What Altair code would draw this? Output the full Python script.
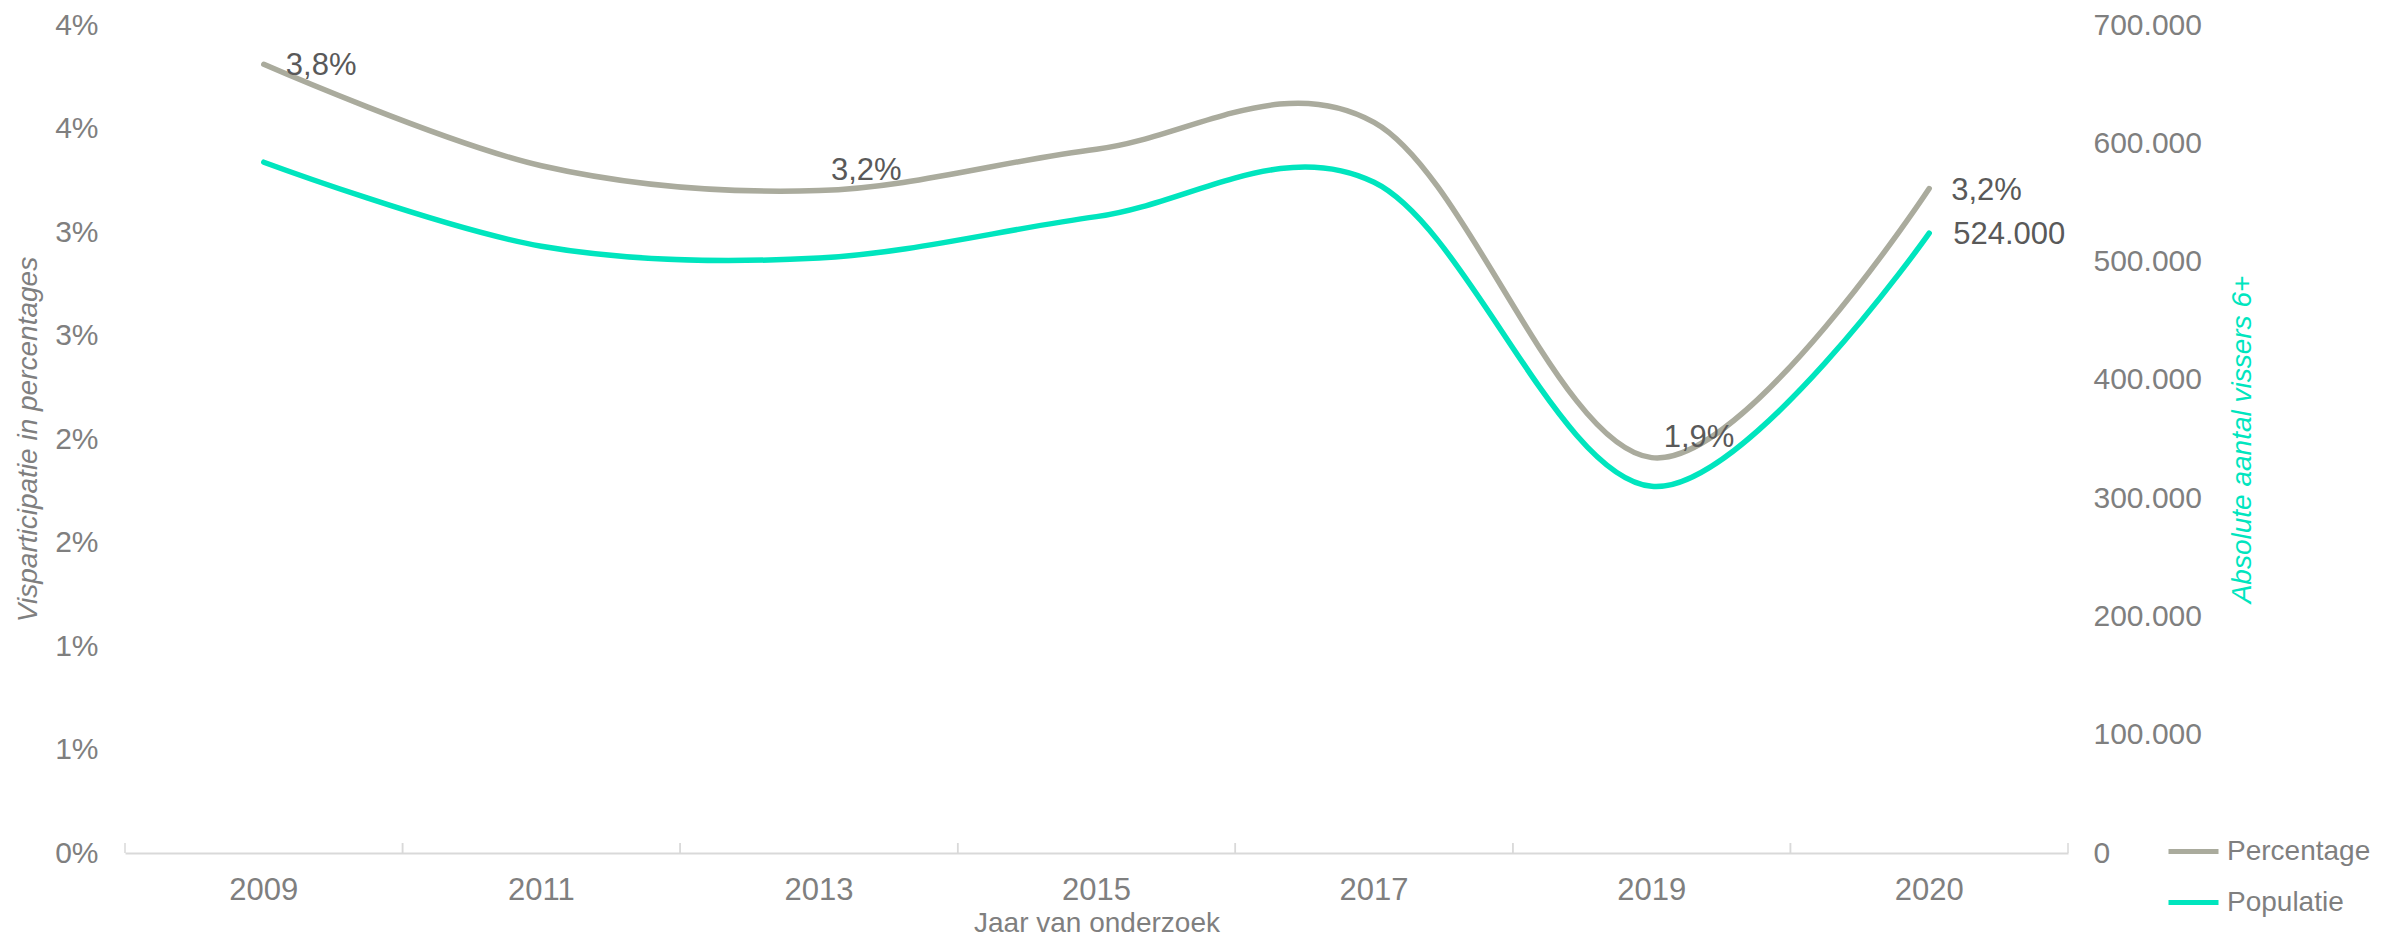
import altair as alt
import pandas as pd

years = ["2009", "2011", "2013", "2015", "2017", "2019", "2020"]
pct_values = [3.81, 3.32, 3.20, 3.40, 3.53, 1.91, 3.21]
pop_values = [584000, 513000, 503000, 538000, 567000, 310000, 524000]
pct_labels = ["3,8%", "", "3,2%", "", "", "1,9%", "3,2%"]
pop_labels = ["", "", "", "", "", "", "524.000"]
series_names = ["Percentage", "Populatie"]
series_colors = ["#AAAB9D", "#00E5BE"]
pct_ticks = [0, 0.5, 1, 1.5, 2, 2.5, 3, 3.5, 4]

FONT = "Liberation Sans"
W, H = 1943, 828

df_pct = pd.DataFrame({"year": years, "value": pct_values, "label": pct_labels,
                       "series": series_names[0]})
df_pop = pd.DataFrame({"year": years, "value": pop_values, "label": pop_labels,
                       "series": series_names[1]})

x_scale = alt.Scale(type="band", domain=years, paddingInner=0, paddingOuter=0)
x_axis = alt.Axis(title="Jaar van onderzoek", labelAngle=0, ticks=False, offset=0,
                  domainColor="#D9D9D9", domainWidth=2,
                  labelFont=FONT, labelFontSize=31, labelColor="#7F7F7F",
                  labelPadding=22, titleFont=FONT, titleFontSize=28,
                  titleFontWeight="normal", titleColor="#7F7F7F",
                  titlePadding=4)
x_enc = alt.X("year:O", scale=x_scale, sort=years, axis=x_axis)
color_enc = alt.Color("series:N",
                      scale=alt.Scale(domain=series_names, range=series_colors),
                      legend=alt.Legend(title=None, orient="none", legendX=2041, legendY=799,
                                        symbolType="stroke", symbolStrokeWidth=5,
                                        symbolSize=2500, labelFont=FONT, labelFontSize=28,
                                        labelColor="#7F7F7F", rowPadding=9, padding=0,
                                        labelOffset=6))

y_pct = alt.Y("value:Q", scale=alt.Scale(domain=[0, 4], nice=False),
              axis=alt.Axis(title="Visparticipatie in percentages", values=pct_ticks,
                            labelExpr="round(datum.value) + '%'", grid=False, domain=False,
                            ticks=False, offset=0, labelFont=FONT, labelFontSize=30,
                            labelColor="#7F7F7F", labelPadding=27, titleFont=FONT,
                            titleFontSize=28, titleFontStyle="italic",
                            titleFontWeight="normal", titleColor="#7F7F7F",
                            titlePadding=12))
y_pop = alt.Y("value:Q", scale=alt.Scale(domain=[0, 700000], nice=False),
              axis=alt.Axis(title="Absolute aantal vissers 6+", orient="right",
                            tickCount=8, offset=0,
                            labelExpr="datum.value == 0 ? '0' : format(datum.value / 1000, 'd') + '.000'",
                            grid=False, domain=False, ticks=False, labelFont=FONT,
                            labelFontSize=30, labelColor="#7F7F7F", labelPadding=25,
                            titleFont=FONT, titleFontSize=28, titleFontStyle="italic",
                            titleFontWeight="normal", titleColor="#00E5BE",
                            titleAngle=270, titlePadding=55))

line_props = dict(interpolate="cardinal", tension=0, strokeWidth=5.5, strokeCap="round")

pct_line = alt.Chart(df_pct).mark_line(**line_props).encode(x=x_enc, y=y_pct, color=color_enc)
pop_line = alt.Chart(df_pop).mark_line(**line_props).encode(x=x_enc, y=y_pop, color=color_enc)

text_props = dict(font=FONT, fontSize=31, color="#595959", align="left", baseline="middle")

pct_text_side = alt.Chart(df_pct).transform_filter(
    "datum.label != '' && indexof(['2013','2019'], datum.year) < 0"
).mark_text(dx=22, dy=2, **text_props).encode(x=x_enc, y=y_pct, text="label:N")
pct_text_above = alt.Chart(df_pct).transform_filter(
    "datum.label != '' && indexof(['2013','2019'], datum.year) >= 0"
).mark_text(dx=12, dy=-20, **text_props).encode(x=x_enc, y=y_pct, text="label:N")
pop_text = alt.Chart(df_pop).transform_filter("datum.label != ''").mark_text(
    dx=24, dy=2, **text_props).encode(x=x_enc, y=y_pop, text="label:N")

tick_start = alt.Chart(df_pct).mark_rule(color="#D9D9D9", strokeWidth=1.5).encode(
    x=alt.X("year:O", scale=x_scale, sort=years, bandPosition=0, axis=x_axis),
    y=alt.value(H - 10), y2=alt.value(H))
tick_end = alt.Chart(df_pct).mark_rule(color="#D9D9D9", strokeWidth=1.5).encode(
    x=alt.X("year:O", scale=x_scale, sort=years, bandPosition=1, axis=x_axis),
    y=alt.value(H - 10), y2=alt.value(H))

left = alt.layer(pct_line, pct_text_side, pct_text_above, tick_start, tick_end)
right = alt.layer(pop_line, pop_text)

chart = alt.layer(left, right).resolve_scale(y="independent").properties(
    width=W, height=H,
    autosize=alt.AutoSizeParams(type="none"),
    padding={"left": 117, "top": 17, "right": 319, "bottom": 87},
).configure_view(stroke=None)

chart.save("out.html", embed_options={"renderer": "svg", "actions": False})
